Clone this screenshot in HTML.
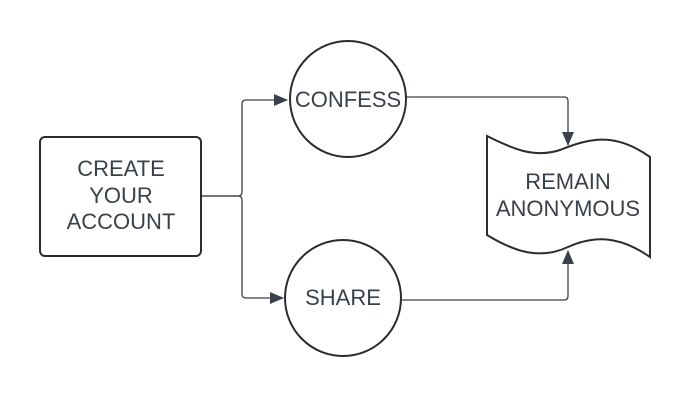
<!DOCTYPE html>
<html><head><style>body{margin:0;background:#fff}svg{display:block}text{font-family:"Liberation Sans",sans-serif;font-size:22px;fill:#3a414a;text-anchor:middle}</style></head>
<body>
<svg width="688" height="400" viewBox="0 0 688 400">
<defs><marker id="a" markerWidth="14" markerHeight="12" refX="13" refY="6" orient="auto" markerUnits="userSpaceOnUse"><path d="M0,0 L14,6 L0,12z" fill="#3a414a"/></marker></defs>
<g fill="none" stroke="#3a414a" stroke-width="1.3">
<path d="M201,196 H238 Q242,196 242,192 V104 Q242,100 246,100 H287" marker-end="url(#a)"/>
<path d="M201,196 H238 Q242,196 242,200 V294 Q242,298 246,298 H283" marker-end="url(#a)"/>
<path d="M406,97 H564 Q568,97 568,101 V145" marker-end="url(#a)"/>
<path d="M402,300 H564 Q568,300 568,296 V251" marker-end="url(#a)"/>
</g>
<g fill="#fff" stroke="#282c33" stroke-width="2">
<rect x="40" y="137" width="161" height="119" rx="5"/>
<circle cx="348" cy="99" r="58"/>
<circle cx="343" cy="298" r="58"/>
<path d="M487,136 C515,150 535,158 560,150 C590,138 615,132 650,157 V257 C620,236 595,235 568,247 C540,260 515,252 487,235 Z"/>
</g>
<text x="121" y="176">CREATE</text>
<text x="121" y="203">YOUR</text>
<text x="121" y="229">ACCOUNT</text>
<text x="348" y="107">CONFESS</text>
<text x="343" y="305">SHARE</text>
<text x="568" y="189">REMAIN</text>
<text x="568" y="216">ANONYMOUS</text>
</svg>
</body></html>
